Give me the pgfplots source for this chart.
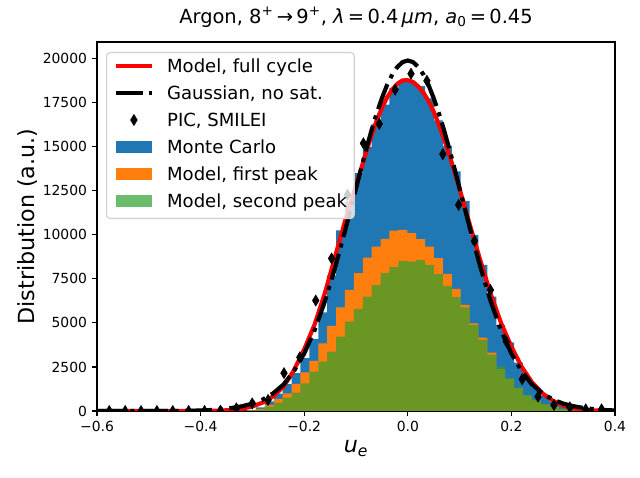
\documentclass[border=0pt]{standalone}
\usepackage{fontspec}
\setmainfont{DejaVu Sans}
\usepackage{pgfplots}
\usepackage{pgfplotstable}
\pgfplotsset{compat=1.18}
\usetikzlibrary{calc}
\definecolor{mplblue}{HTML}{1F77B4}
\definecolor{mplorange}{HTML}{FF7F0E}
\definecolor{mplgreen}{HTML}{2CA02C}
\colorlet{mplgreenlight}{mplgreen!70!white}
\pgfplotsset{
  mpl line legend/.style={legend image code/.code={\draw[sharp corners,##1] (0pt,4.55pt) -- (26pt,4.55pt);}},
  mpl patch legend/.style={legend image code/.code={\fill[sharp corners,##1,fill opacity=1] (0pt,0pt) rectangle (26pt,9.1pt);}},
  mpl mark legend/.style={legend image code/.code={\path (0pt,0pt) (26pt,0pt); \draw[sharp corners,fill opacity=1,##1] plot coordinates {(13pt,4.55pt)};}},
}
\pgfplotstableread{
x mc p1 p2
-0.3274 20 10 10
-0.3102 60 30 20
-0.2931 200 120 80
-0.2759 550 350 250
-0.2587 980 682 472
-0.2415 1520 1004 758
-0.2243 2150 1534 1042
-0.2072 3000 2197 1572
-0.1900 4100 2841 2235
-0.1728 5600 3845 2803
-0.1556 7700 4830 3372
-0.1384 10250 5890 4224
-0.1213 11900 6875 5076
-0.1041 13500 7822 5796
-0.0869 15000 8712 6496
-0.0697 16300 9337 7159
-0.0525 17400 9773 7822
-0.0354 18350 10240 8180
-0.0182 18750 10284 8523
-0.0010 18700 10095 8485
0.0162 18450 9754 8580
0.0334 17750 9337 8296
0.0505 16500 8674 7765
0.0677 15050 7784 7102
0.0849 13600 6932 6458
0.1021 11930 6020 5890
0.1193 10000 4980 4870
0.1364 8300 4165 4050
0.1536 6500 3310 3200
0.1708 4890 2380 2520
0.1880 3900 1820 1860
0.2052 2750 1300 1345
0.2223 1900 880 910
0.2395 1300 600 625
0.2567 850 380 400
0.2739 520 230 245
0.2911 280 110 110
0.3082 130 40 40
0.3254 50 15 15
0.3426 50 15 15
}\histdata
\pgfplotstableread{
x y
-0.60 0
-0.44 0
-0.40 5
-0.38 12
-0.36 25
-0.34 60
-0.32 130
-0.30 260
-0.28 480
-0.26 830
-0.24 1380
-0.22 2300
-0.20 3500
-0.18 4900
-0.16 6700
-0.14 8800
-0.12 10900
-0.10 12800
-0.09 13750
-0.08 14750
-0.07 15650
-0.06 16500
-0.05 17200
-0.04 17800
-0.03 18250
-0.02 18580
-0.01 18770
0.00 18780
0.01 18680
0.02 18430
0.03 18080
0.04 17600
0.05 17000
0.06 16250
0.07 15450
0.08 14550
0.09 13600
0.10 12600
0.12 10550
0.14 8550
0.16 6650
0.18 5000
0.20 3650
0.22 2500
0.24 1620
0.26 1000
0.28 580
0.30 310
0.32 150
0.34 70
0.36 30
0.38 10
0.40 3
}\modeldata
\pgfplotstableread{
x y
-0.60 0
-0.46 3
-0.44 8
-0.42 15
-0.40 30
-0.38 55
-0.36 100
-0.34 170
-0.32 270
-0.30 420
-0.28 650
-0.26 1000
-0.24 1500
-0.22 2260
-0.20 3260
-0.18 4580
-0.16 6230
-0.14 8180
-0.12 10360
-0.10 12640
-0.09 13780
-0.08 14890
-0.07 15940
-0.06 16900
-0.05 17760
-0.04 18510
-0.03 19110
-0.02 19540
-0.01 19810
0.00 19900
0.01 19810
0.02 19540
0.03 19110
0.04 18510
0.05 17760
0.06 16900
0.07 15940
0.08 14890
0.09 13780
0.10 12640
0.12 10360
0.14 8180
0.16 6230
0.18 4580
0.20 3260
0.22 2260
0.24 1500
0.26 1000
0.28 650
0.30 420
0.32 270
0.34 170
0.36 100
0.38 55
0.40 30
}\gaussdata
\pgfplotstableread{
x y
-0.5763 0
-0.5456 0
-0.5150 0
-0.4843 0
-0.4537 0
-0.4230 0
-0.3923 0
-0.3617 20
-0.3310 150
-0.3004 430
-0.2697 625
-0.2390 2150
-0.2084 3050
-0.1777 6270
-0.1471 8660
-0.1164 12270
-0.0857 15200
-0.0551 16300
-0.0244 18240
0.0062 19150
0.0369 18750
0.0676 14580
0.0982 11700
0.1289 9660
0.1595 6870
0.1902 3940
0.2209 1800
0.2515 813
0.2822 341
0.3128 208
0.3435 95
0.3741 95
}\picdata
\begin{document}
\begin{tikzpicture}
\useasboundingbox (-69.84pt,-48.24pt) rectangle (390.96pt,295.92pt);
\begin{axis}[
  at={(0,0)}, anchor=south west,
  scale only axis, width=372.96pt, height=265.68pt,
  xmin=-0.6, xmax=0.4, ymin=0, ymax=20950,
  clip marker paths=true,
  axis line style={line width=0.8pt},
  scaled y ticks=false, scaled x ticks=false,
  xtick={-0.6,-0.4,-0.2,0,0.2,0.4},
  xticklabels={−0.6,−0.4,−0.2,0.0,0.2,0.4},
  ytick={0,2500,5000,7500,10000,12500,15000,17500,20000},
  yticklabels={0,2500,5000,7500,10000,12500,15000,17500,20000},
  tick align=outside, tick pos=left,
  major tick length=3.5pt,
  major tick style={line width=0.8pt, black},
  tick label style={font=\fontsize{10}{12}\selectfont},
  xticklabel style={anchor=north, inner sep=0pt, yshift=-3.5pt},
  yticklabel style={anchor=east, inner sep=0pt, xshift=-3.5pt},
  title={Argon, 8\textsuperscript{+}\,→\,9\textsuperscript{+}, \textit{λ}\,=\,0.4\,\textit{μm}, \textit{a}\textsubscript{0}\,=\,0.45},
  title style={at={(axis description cs:0.5,1)}, anchor=base, yshift=7.6pt, inner sep=0pt, font=\fontsize{14}{16.8}\selectfont},
  xlabel={\textit{u}\textsubscript{\textit{e}}},
  xlabel style={at={(axis description cs:0.5,0)}, anchor=base, yshift=-29.9pt, inner sep=0pt, font=\fontsize{16}{19.2}\selectfont},
  ylabel={Distribution (a.u.)},
  ylabel style={at={($(axis description cs:0,0.5)+(-42.8pt,0pt)$)}, anchor=south, inner sep=0pt, font=\fontsize{16}{19.2}\selectfont},
  legend style={at={(axis description cs:0.0174,0.973)}, anchor=north west,
    draw=black!18, line width=0.8pt, rounded corners=2.6pt,
    fill=white, fill opacity=0.8, text opacity=1,
    font=\fontsize{13}{15.6}\selectfont,
    inner xsep=5.2pt, inner ysep=5.05pt,
    row sep=7.24pt, column sep=9.4pt,
    cells={anchor=base west},
    nodes={inner sep=0pt, text height=9.2pt, text depth=3pt}},
]
\addplot[const plot, fill=mplblue, draw=none, forget plot] table[x=x, y=mc] {\histdata} \closedcycle;
\addplot[const plot, fill=mplorange, draw=none, forget plot] table[x=x, y=p1] {\histdata} \closedcycle;
\addplot[const plot, fill=mplgreen, fill opacity=0.7, draw=none, forget plot] table[x=x, y=p2] {\histdata} \closedcycle;
\addplot[red, line width=3pt, forget plot] table {\modeldata};
\addplot[black, line width=3pt, dash pattern=on 19.2pt off 4.8pt on 3pt off 4.8pt, forget plot] table {\gaussdata};
\addplot[only marks, mark=diamond*, mark size=3.9pt, mark options={fill=black, draw=black, line width=0.5pt, xscale=0.8}, forget plot] table {\picdata};

\addlegendimage{mpl line legend, red, line width=3pt}
\addlegendentry{Model, full cycle}
\addlegendimage{mpl line legend, black, line width=3pt, dash pattern=on 19.2pt off 4.8pt on 3pt off 4.8pt}
\addlegendentry{Gaussian, no sat.}
\addlegendimage{mpl mark legend, only marks, mark=diamond*, mark size=3.9pt, mark options={fill=black, draw=black, line width=0.5pt, xscale=0.8}}
\addlegendentry{PIC, SMILEI}
\addlegendimage{mpl patch legend, fill=mplblue, draw=none}
\addlegendentry{Monte Carlo}
\addlegendimage{mpl patch legend, fill=mplorange, draw=none}
\addlegendentry{Model, first peak}
\addlegendimage{mpl patch legend, fill=mplgreenlight, draw=none}
\addlegendentry{Model, second peak}
\end{axis}
\end{tikzpicture}
\end{document}
